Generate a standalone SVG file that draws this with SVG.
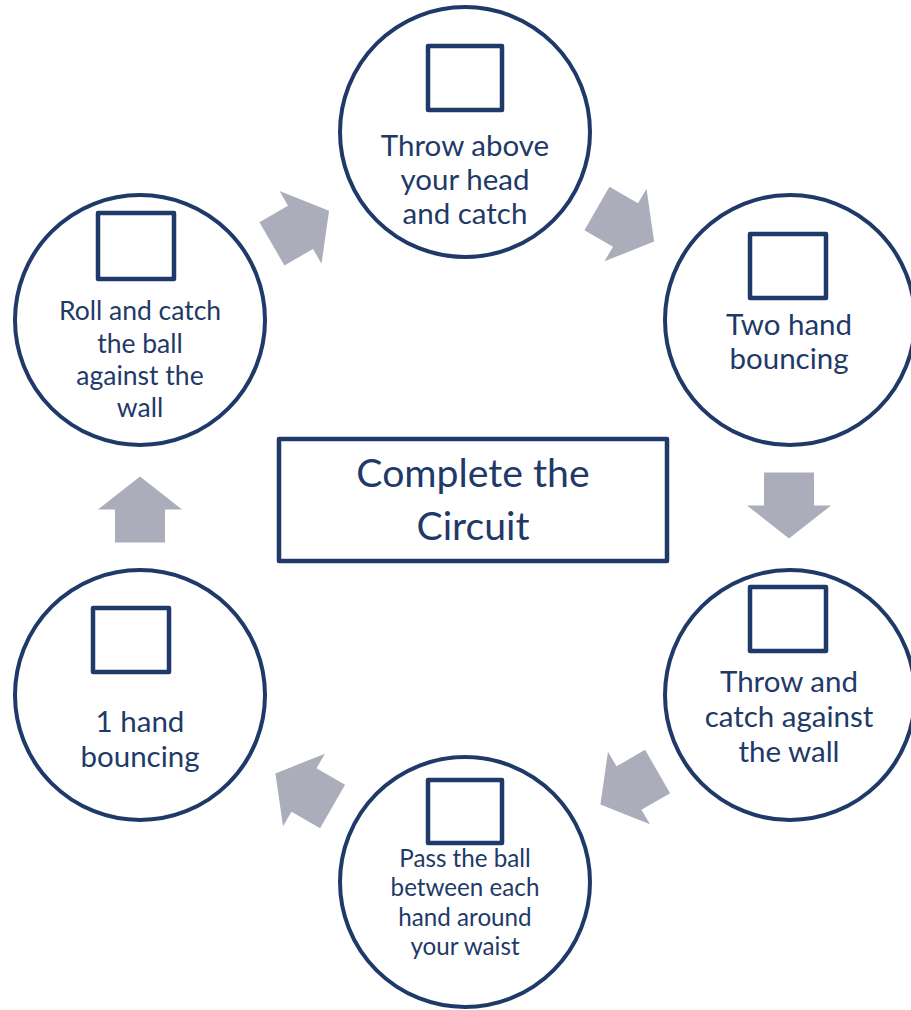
<svg xmlns="http://www.w3.org/2000/svg" width="911" height="1010" viewBox="0 0 911 1010">
  <style>
    .ring { fill: #ffffff; stroke: #1F3A68; stroke-width: 4; }
    .box { fill: none; stroke: #1F3A68; stroke-width: 4.5; stroke-linejoin: round; }
    .lbl { font-family: Lato, "Open Sans", "Liberation Sans", sans-serif; fill: #1F3A68; text-anchor: middle; }
    .arrow { fill: #ABAEBA; }
  </style>
  <defs>
    <!-- block arrow pointing right, centred on its length -->
    <polygon id="blockArrow" points="-33,-25 0,-25 0,-42 33,0 0,42 0,25 -33,25"/>
  </defs>
  <rect width="911" height="1010" fill="#ffffff"/>

  <g id="connectors" class="arrow">
    <use href="#blockArrow" transform="translate(300.5,227.3) rotate(-30)"/>
    <use href="#blockArrow" transform="translate(625.5,225) rotate(30)"/>
    <use href="#blockArrow" transform="translate(789,505.5) rotate(90)"/>
    <use href="#blockArrow" transform="translate(629,788) rotate(150)"/>
    <use href="#blockArrow" transform="translate(304,790) rotate(210)"/>
    <use href="#blockArrow" transform="translate(140,509.5) rotate(-90)"/>
  </g>

  <g id="node-throw-above">
    <circle class="ring" cx="465" cy="132" r="125"/>
    <rect class="box" x="428" y="46" width="74" height="64"/>
    <text class="lbl" font-size="29.5"><tspan x="465" y="156">Throw above</tspan><tspan x="465" y="190">your head</tspan><tspan x="465" y="224">and catch</tspan></text>
  </g>

  <g id="node-two-hand">
    <circle class="ring" cx="790" cy="320" r="125"/>
    <rect class="box" x="750" y="234" width="76" height="64"/>
    <text class="lbl" font-size="29.5"><tspan x="789" y="335">Two hand</tspan><tspan x="789" y="369">bouncing</tspan></text>
  </g>

  <g id="node-throw-wall">
    <circle class="ring" cx="790" cy="695" r="125"/>
    <rect class="box" x="750" y="587" width="76" height="64"/>
    <text class="lbl" font-size="29.5"><tspan x="789" y="692">Throw and</tspan><tspan x="789" y="727">catch against</tspan><tspan x="789" y="762">the wall</tspan></text>
  </g>

  <g id="node-pass-ball">
    <circle class="ring" cx="465" cy="882" r="125"/>
    <rect class="box" x="428" y="780" width="74" height="63"/>
    <text class="lbl" font-size="24.2"><tspan x="465" y="867">Pass the ball</tspan><tspan x="465" y="896">between each</tspan><tspan x="465" y="926">hand around</tspan><tspan x="465" y="955">your waist</tspan></text>
  </g>

  <g id="node-one-hand">
    <circle class="ring" cx="140" cy="695" r="125"/>
    <rect class="box" x="93" y="608" width="76" height="64"/>
    <text class="lbl" font-size="29.5"><tspan x="140" y="732">1 hand</tspan><tspan x="140" y="767">bouncing</tspan></text>
  </g>

  <g id="node-roll-catch">
    <circle class="ring" cx="140" cy="320" r="125"/>
    <rect class="box" x="98" y="213" width="76" height="66"/>
    <text class="lbl" font-size="26.5"><tspan x="140" y="320">Roll and catch</tspan><tspan x="140" y="353">the ball</tspan><tspan x="140" y="385">against the</tspan><tspan x="140" y="417">wall</tspan></text>
  </g>

  <g id="node-title">
    <rect class="box" x="279" y="439" width="388" height="122"/>
    <text class="lbl" font-size="39.2"><tspan x="473" y="487">Complete the</tspan><tspan x="473" y="540">Circuit</tspan></text>
  </g>
</svg>
